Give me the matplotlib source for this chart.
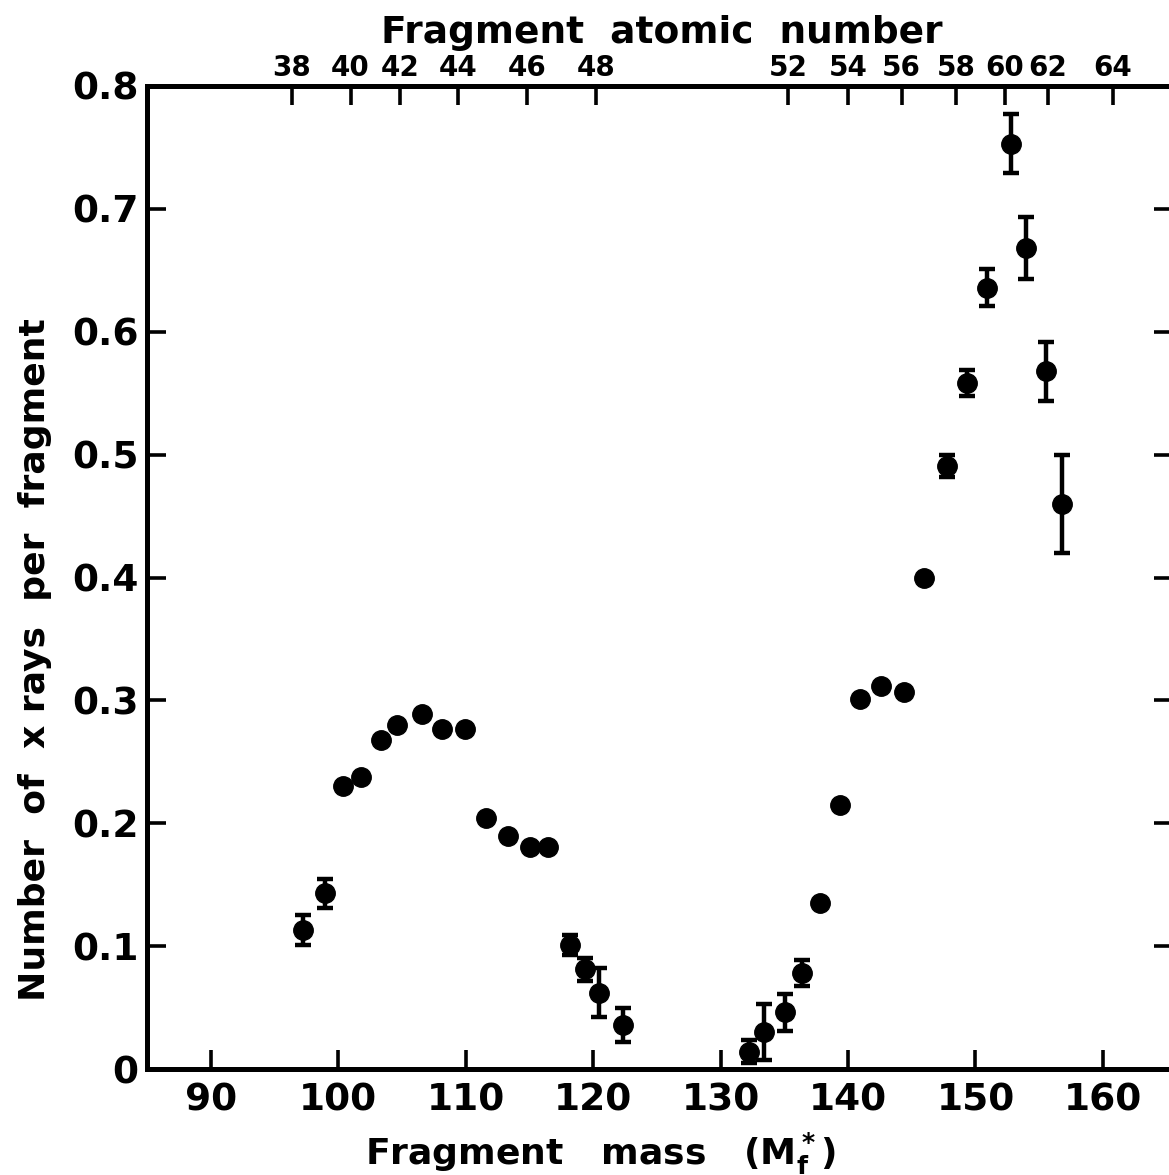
import numpy as np
import matplotlib
matplotlib.use("Agg")
import matplotlib.pyplot as plt

plt.rcParams['font.family'] = ['DejaVu Sans']
plt.rcParams['font.weight'] = 'bold'
plt.rcParams['mathtext.fontset'] = 'dejavusans'

# fragment mass vs x-ray yield
mass = [97.25, 98.96, 100.4, 101.76, 103.35, 104.64, 106.57, 108.15, 109.95,
        111.6, 113.33, 115.06, 116.5, 118.15, 119.38, 120.5, 122.34,
        132.2, 133.44, 135.04, 136.43, 137.84, 139.4, 140.93, 142.6, 144.4,
        146.0, 147.74, 149.3, 150.93, 152.8, 154.0, 155.54, 156.8]
xrays = [0.113, 0.143, 0.230, 0.238, 0.268, 0.280, 0.289, 0.277, 0.277,
         0.204, 0.190, 0.181, 0.181, 0.101, 0.081, 0.062, 0.036,
         0.014, 0.030, 0.046, 0.078, 0.135, 0.215, 0.301, 0.312, 0.307,
         0.400, 0.491, 0.558, 0.636, 0.753, 0.668, 0.568, 0.460]
err = [0.012, 0.012, 0, 0, 0, 0, 0, 0, 0,
       0, 0, 0, 0, 0.008, 0.0095, 0.0198, 0.014,
       0.0095, 0.023, 0.015, 0.0104, 0, 0, 0, 0, 0,
       0, 0.009, 0.0105, 0.015, 0.024, 0.025, 0.024, 0.040]

# top axis: fragment atomic number at its mass position
z_labels = [38, 40, 42, 44, 46, 48, 52, 54, 56, 58, 60, 62, 64]
z_mass = [96.35, 100.97, 104.85, 109.4, 114.8, 120.2, 135.3, 140.0, 144.2,
          148.5, 152.3, 155.7, 160.8]

mass_ticks = [90, 100, 110, 120, 130, 140, 150, 160]
y_ticks = [0, 0.1, 0.2, 0.3, 0.4, 0.5, 0.6, 0.7, 0.8]
y_labels = ['0', '0.1', '0.2', '0.3', '0.4', '0.5', '0.6', '0.7', '0.8']

fig = plt.figure(figsize=(11.69, 11.75), dpi=100)
ax = fig.add_axes([147/1169, 1 - 1069/1175, (1173 - 147)/1169, (1069 - 86)/1175])

m = np.array(mass)
y = np.array(xrays)
e = np.array(err)
sel = e > 0
ax.errorbar(m[sel], y[sel], yerr=e[sel], fmt='none', ecolor='black',
            elinewidth=3.2, capsize=6, capthick=3.2, zorder=2)
ax.plot(m, y, 'o', color='black', markersize=14, zorder=3)

ax.set_xlim(85, 165.5)
ax.set_ylim(0, 0.8)
ax.set_xticks(mass_ticks)
ax.set_xticklabels([str(t) for t in mass_ticks])
ax.set_yticks(y_ticks)
ax.set_yticklabels(y_labels)

for s in ax.spines.values():
    s.set_linewidth(3.6)
ax.tick_params(axis='both', direction='in', length=14, width=2.6,
               labelsize=27, right=True, top=False)
ax.tick_params(axis='x', pad=10)
ax.tick_params(axis='y', pad=6)

top = ax.twiny()
top.set_xlim(ax.get_xlim())
top.set_xticks(z_mass)
top.set_xticklabels([str(z) for z in z_labels])
top.tick_params(axis='x', direction='in', length=14, width=2.6,
                labelsize=20, pad=3)
for s in top.spines.values():
    s.set_visible(False)

fig.text(0.566, 0.972, 'Fragment  atomic  number', ha='center', va='center',
         fontsize=27, fontweight='bold')
fig.text(0.514, 0.018, r'Fragment   mass   ($\mathbf{M_f^*}$)', ha='center',
         va='center', fontsize=26, fontweight='bold')
fig.text(0.030, 1 - 660/1175, 'Number  of  x rays  per  fragment', rotation=90,
         ha='center', va='center', fontsize=26, fontweight='bold')

fig.savefig('out.png', dpi=100)
